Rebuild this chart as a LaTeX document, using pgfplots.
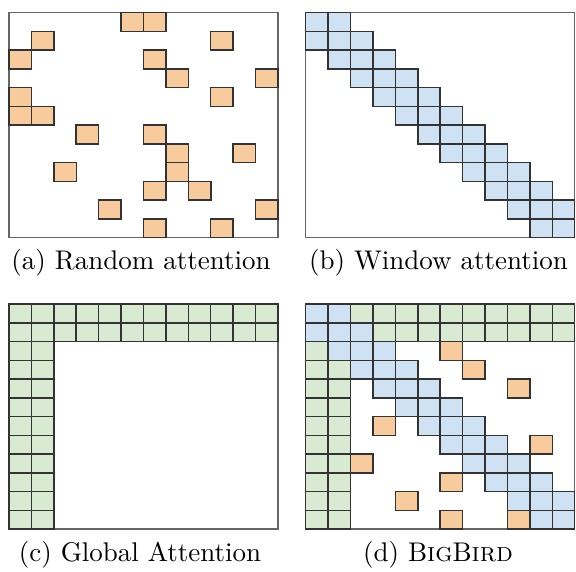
\documentclass[border=0pt]{standalone}
\usepackage{pgfplots}
\pgfplotsset{compat=1.18}
\usepackage{graphicx}
\definecolor{rnd}{HTML}{F8CB9C}
\definecolor{win}{HTML}{CFE2F3}
\definecolor{glb}{HTML}{D9EAD3}
\pgfdeclareplotmark{cell}{\pgfpathrectangle{\pgfqpoint{-11.21pt}{-9.375pt}}{\pgfqpoint{22.42pt}{18.75pt}}\pgfusepathqfillstroke}
\pgfplotsset{
  cellaxis/.style={scale only axis, width=269pt, height=225pt,
    xmin=0, xmax=12, ymin=0, ymax=12, y dir=reverse, ticks=none,
    axis line style={draw=black!60, line width=1.3pt}, clip=false, anchor=south west},
  cells/.style={only marks, mark=cell, mark options={fill=#1, draw=black!80, line width=1.5pt}},
}
\begin{document}
\begin{tikzpicture}
\path (0pt,0pt) rectangle (576pt,566pt);
% (a) random
\begin{axis}[cellaxis, at={(9pt,328.3pt)}]
\addplot[cells=rnd] coordinates {(5.5,0.5)(6.5,0.5)(1.5,1.5)(9.5,1.5)(0.5,2.5)(6.5,2.5)(7.5,3.5)(11.5,3.5)(0.5,4.5)(9.5,4.5)(0.5,5.5)(1.5,5.5)(3.5,6.5)(6.5,6.5)(7.5,7.5)(10.5,7.5)(2.5,8.5)(7.5,8.5)(6.5,9.5)(8.5,9.5)(4.5,10.5)(11.5,10.5)(6.5,11.5)(9.5,11.5)};
\end{axis}
% (b) window
\begin{axis}[cellaxis, at={(305.7pt,328.3pt)}]
\addplot[cells=win] coordinates {(0.5,0.5)(1.5,0.5)
(0.5,1.5)(1.5,1.5)(2.5,1.5)
(1.5,2.5)(2.5,2.5)(3.5,2.5)
(2.5,3.5)(3.5,3.5)(4.5,3.5)
(3.5,4.5)(4.5,4.5)(5.5,4.5)
(4.5,5.5)(5.5,5.5)(6.5,5.5)
(5.5,6.5)(6.5,6.5)(7.5,6.5)
(6.5,7.5)(7.5,7.5)(8.5,7.5)
(7.5,8.5)(8.5,8.5)(9.5,8.5)
(8.5,9.5)(9.5,9.5)(10.5,9.5)
(9.5,10.5)(10.5,10.5)(11.5,10.5)
(10.5,11.5)(11.5,11.5)};
\end{axis}
% (c) global
\begin{axis}[cellaxis, at={(9pt,37pt)}]
\addplot[cells=glb] coordinates {(0.5,0.5)(1.5,0.5)(2.5,0.5)(3.5,0.5)(4.5,0.5)(5.5,0.5)(6.5,0.5)(7.5,0.5)(8.5,0.5)(9.5,0.5)(10.5,0.5)(11.5,0.5)
(0.5,1.5)(1.5,1.5)(2.5,1.5)(3.5,1.5)(4.5,1.5)(5.5,1.5)(6.5,1.5)(7.5,1.5)(8.5,1.5)(9.5,1.5)(10.5,1.5)(11.5,1.5)
(0.5,2.5)(1.5,2.5)(0.5,3.5)(1.5,3.5)(0.5,4.5)(1.5,4.5)(0.5,5.5)(1.5,5.5)(0.5,6.5)(1.5,6.5)(0.5,7.5)(1.5,7.5)(0.5,8.5)(1.5,8.5)(0.5,9.5)(1.5,9.5)(0.5,10.5)(1.5,10.5)(0.5,11.5)(1.5,11.5)};
\end{axis}
% (d) bigbird
\begin{axis}[cellaxis, at={(305.7pt,37pt)}]
\addplot[cells=glb] coordinates {(2.5,0.5)(3.5,0.5)(4.5,0.5)(5.5,0.5)(6.5,0.5)(7.5,0.5)(8.5,0.5)(9.5,0.5)(10.5,0.5)(11.5,0.5)
(3.5,1.5)(4.5,1.5)(5.5,1.5)(6.5,1.5)(7.5,1.5)(8.5,1.5)(9.5,1.5)(10.5,1.5)(11.5,1.5)
(0.5,2.5)(0.5,3.5)(1.5,3.5)(0.5,4.5)(1.5,4.5)(0.5,5.5)(1.5,5.5)(0.5,6.5)(1.5,6.5)(0.5,7.5)(1.5,7.5)(0.5,8.5)(1.5,8.5)(0.5,9.5)(1.5,9.5)(0.5,10.5)(1.5,10.5)(0.5,11.5)(1.5,11.5)};
\addplot[cells=win] coordinates {(0.5,0.5)(1.5,0.5)
(0.5,1.5)(1.5,1.5)(2.5,1.5)
(1.5,2.5)(2.5,2.5)(3.5,2.5)
(2.5,3.5)(3.5,3.5)(4.5,3.5)
(3.5,4.5)(4.5,4.5)(5.5,4.5)
(4.5,5.5)(5.5,5.5)(6.5,5.5)
(5.5,6.5)(6.5,6.5)(7.5,6.5)
(6.5,7.5)(7.5,7.5)(8.5,7.5)
(7.5,8.5)(8.5,8.5)(9.5,8.5)
(8.5,9.5)(9.5,9.5)(10.5,9.5)
(9.5,10.5)(10.5,10.5)(11.5,10.5)
(10.5,11.5)(11.5,11.5)};
\addplot[cells=rnd] coordinates {(6.5,2.5)(7.5,3.5)(9.5,4.5)(3.5,6.5)(10.5,7.5)(2.5,8.5)(6.5,9.5)(4.5,10.5)(6.5,11.5)(9.5,11.5)};
\end{axis}
\node[text=black] at (141pt,303pt) {\scalebox{2.7}{(a) Random attention}};
\node[text=black] at (438.5pt,303pt) {\scalebox{2.7}{(b) Window attention}};
\node[text=black] at (140pt,11pt) {\scalebox{2.7}{(c) Global Attention}};
\node[text=black] at (438pt,11pt) {\scalebox{2.7}{(d) B\textsc{ig}B\textsc{ird}}};
\end{tikzpicture}
\end{document}
